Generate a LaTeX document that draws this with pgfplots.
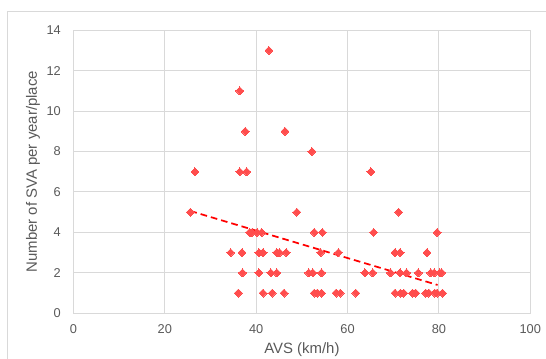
\documentclass[border=0pt]{standalone}
\usepackage{pgfplots}
\pgfplotsset{compat=1.18}
\usepackage{fontspec}
\setmainfont{Liberation Sans}
\definecolor{gridgray}{HTML}{D9D9D9}
\definecolor{txtgray}{HTML}{595959}
\definecolor{mkred}{RGB}{255,77,77}
\begin{document}
\begin{tikzpicture}
\useasboundingbox (0,0) rectangle (409.5pt,269.25pt);
\draw[gridgray, line width=0.75pt] (5.25pt,-10pt) rectangle (420pt,260.25pt);
\begin{axis}[
  at={(55.1pt,34.3pt)}, anchor=south west,
  scale only axis, width=342.6pt, height=212.25pt,
  xmin=0, xmax=100, ymin=0, ymax=14,
  xtick={0,20,...,100}, ytick={0,2,...,14},
  grid=major, major grid style={gridgray, line width=0.75pt},
  axis line style={gridgray, line width=0.75pt},
  major tick length=0pt,
  tick label style={font=\fontsize{9.6}{11}\selectfont, text=txtgray},
  /pgf/number format/assume math mode=true,
  xticklabel style={yshift=-5pt},
  yticklabel style={xshift=-6pt},
  xlabel={AVS (km/h)}, ylabel={Number of SVA per year/place},
  label style={font=\fontsize{11.2}{13}\selectfont, text=txtgray},
  xlabel style={at={(axis description cs:0.5,0)}, anchor=center, yshift=-27.5pt},
  ylabel style={at={(axis description cs:-0.0888,0.5)}, anchor=center, rotate=0},
  clip=false,
]
\addplot[only marks, mark=square*, mark size=2.1pt, mark options={rotate=45, fill=mkred, draw=mkred, line width=0pt}] table {
x y
42.8 13
36.4 11
37.6 9
46.3 9
52.2 8
26.6 7
36.4 7
37.9 7
65.1 7
25.6 5
48.9 5
71.2 5
38.6 4
39.1 4
40.2 4
41.2 4
52.7 4
54.5 4
65.7 4
79.6 4
34.4 3
36.9 3
40.6 3
41.5 3
44.5 3
45.1 3
46.6 3
54.1 3
58.0 3
70.4 3
71.5 3
77.4 3
37.0 2
40.6 2
43.2 2
44.5 2
51.5 2
52.4 2
54.3 2
63.8 2
65.5 2
69.4 2
71.5 2
72.9 2
75.5 2
78.2 2
79.0 2
80.2 2
80.6 2
36.1 1
41.5 1
43.5 1
46.1 1
52.7 1
53.4 1
54.3 1
57.5 1
58.4 1
61.8 1
70.4 1
71.6 1
72.3 1
74.2 1
74.9 1
77.1 1
77.8 1
79.1 1
79.6 1
80.8 1
};
\addplot[red, line width=1.3pt, dash pattern=on 5pt off 3pt] coordinates {(25.6,5.06) (79.7,1.40)};
\end{axis}
\end{tikzpicture}
\end{document}
